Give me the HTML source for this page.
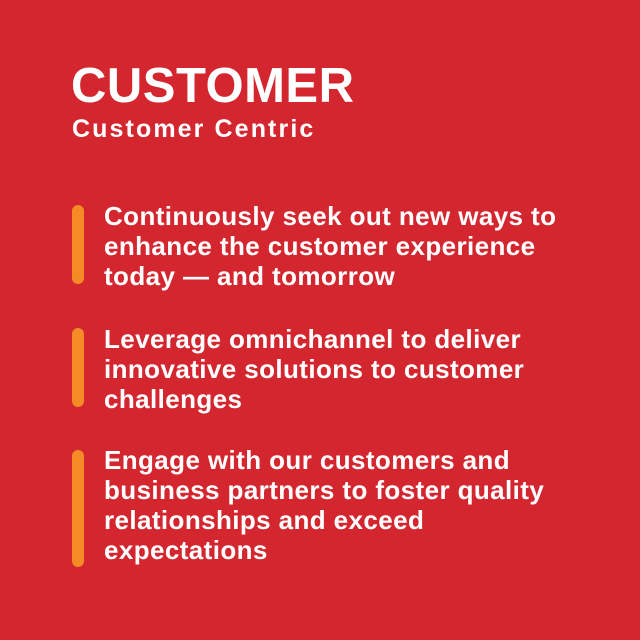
<!DOCTYPE html>
<html><head><style>
body{margin:0;width:640px;height:640px;background:#d4262f;position:relative;overflow:hidden;font-family:"Liberation Sans",sans-serif;color:#fff;font-weight:bold}
.a{position:absolute;white-space:nowrap}
.bar{position:absolute;left:72px;width:12px;border-radius:6px;background:#f68b26}
.t{position:absolute;left:104px;font-size:26px;line-height:30px;letter-spacing:0.4px;white-space:nowrap}
</style></head><body>
<div class="a" style="left:71px;top:58px;font-size:49px;line-height:56px;letter-spacing:0.5px">CUSTOMER</div>
<div class="a" style="left:72px;top:115px;font-size:25px;line-height:28px;letter-spacing:2.1px">Customer Centric</div>
<div class="bar" style="top:205px;height:79px"></div>
<div class="t" style="top:201px">Continuously seek out new ways to<br>enhance the customer experience<br>today — and tomorrow</div>
<div class="bar" style="top:328px;height:79px"></div>
<div class="t" style="top:324px">Leverage omnichannel to deliver<br>innovative solutions to customer<br>challenges</div>
<div class="bar" style="top:450px;height:117px"></div>
<div class="t" style="top:445px">Engage with our customers and<br>business partners to foster quality<br>relationships and exceed<br>expectations</div>
</body></html>
